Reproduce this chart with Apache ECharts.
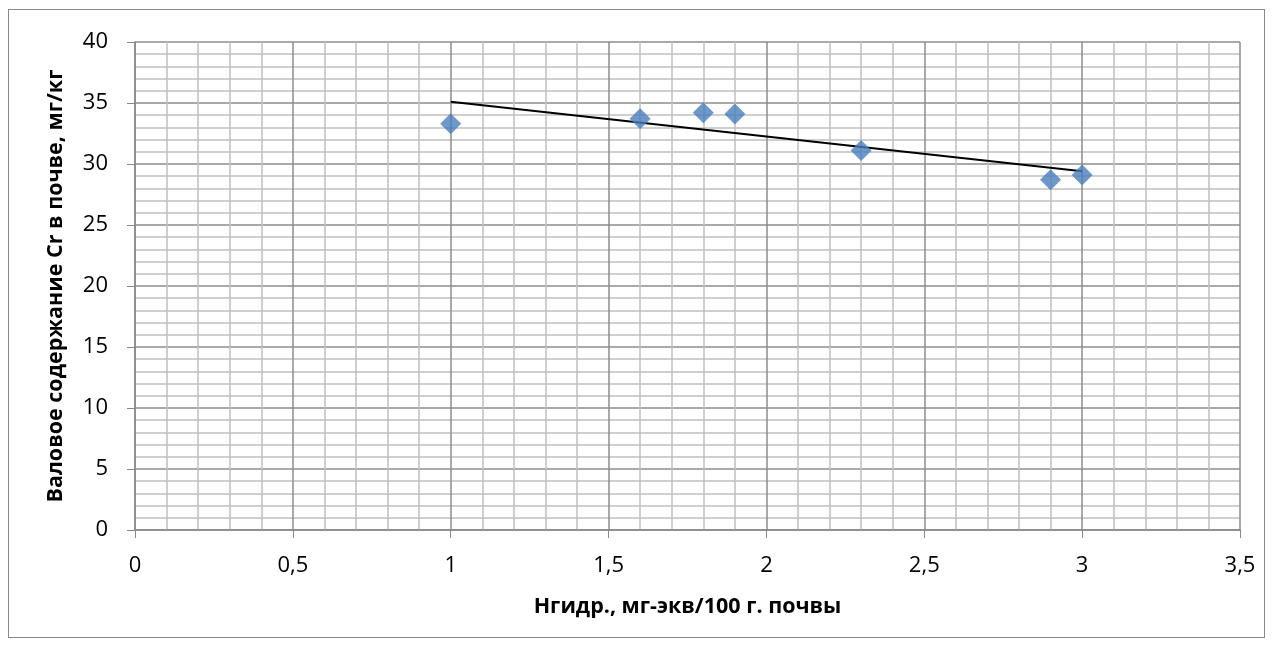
<!DOCTYPE html>
<html><head><meta charset="utf-8">
<script src="https://cdn.jsdelivr.net/npm/echarts@6/dist/echarts.min.js"></script>
<style>html,body{margin:0;padding:0;background:#fff}#c{width:1274px;height:648px}
#frame{position:absolute;left:8px;top:9px;width:1257px;height:629px;border:1px solid #888;box-sizing:border-box;pointer-events:none}</style>
</head><body><div id="c"></div><div id="frame"></div>
<script>
const xValues = [1, 1.6, 1.8, 1.9, 2.3, 2.9, 3.0];
const yValues = [33.3, 33.7, 34.2, 34.1, 31.1, 28.7, 29.1];
const trendX = [1, 3];
const trendY = [35.1, 29.4];
const xTitle = 'Нгидр., мг-экв/100 г. почвы';
const yTitle = 'Валовое содержание Cr в почве, мг/кг';

const chart = echarts.init(document.getElementById('c'));
const font = '"Open Sans", "Noto Sans", sans-serif';
chart.setOption({
  animation: false,
  grid: {left: 135, right: 34, top: 42, bottom: 118},
  xAxis: {
    type: 'value', min: 0, max: 3.5, interval: 0.5,
    name: xTitle, nameLocation: 'middle', nameGap: 66,
    nameTextStyle: {fontFamily: font, fontWeight: 'bold', fontSize: 21.5, color: '#000'},
    axisLine: {show: true, onZero: false, lineStyle: {color: '#888', width: 1.5}},
    axisTick: {show: true, length: 8, lineStyle: {color: '#888'}},
    axisLabel: {fontFamily: font, fontSize: 22, color: '#000', margin: 25,
      formatter: v => String(v).replace('.', ',')},
    splitLine: {show: true, lineStyle: {color: '#8c8c8c', width: 1.5}},
    minorTick: {show: false, splitNumber: 5},
    minorSplitLine: {show: true, lineStyle: {color: '#c0c0c0', width: 1.5}}
  },
  yAxis: {
    type: 'value', min: 0, max: 40, interval: 5,
    name: yTitle, nameLocation: 'middle', nameGap: 68,
    nameTextStyle: {fontFamily: font, fontWeight: 'bold', fontSize: 21.5, color: '#000'},
    axisLine: {show: true, onZero: false, lineStyle: {color: '#888', width: 1.5}},
    axisTick: {show: true, length: 8, lineStyle: {color: '#888'}},
    axisLabel: {fontFamily: font, fontSize: 22, color: '#000', margin: 27},
    splitLine: {show: true, lineStyle: {color: '#8c8c8c', width: 1.5}},
    minorTick: {show: false, splitNumber: 5},
    minorSplitLine: {show: true, lineStyle: {color: '#c0c0c0', width: 1.5}}
  },
  series: [
    {type: 'line', data: trendX.map((x, i) => [x, trendY[i]]), symbol: 'none',
      lineStyle: {color: '#000', width: 2}, z: 2},
    {type: 'scatter', data: xValues.map((x, i) => [x, yValues[i]]), symbol: 'diamond',
      symbolSize: 21, itemStyle: {color: '#4A7EBB'}, z: 3}
  ]
});
</script></body></html>
